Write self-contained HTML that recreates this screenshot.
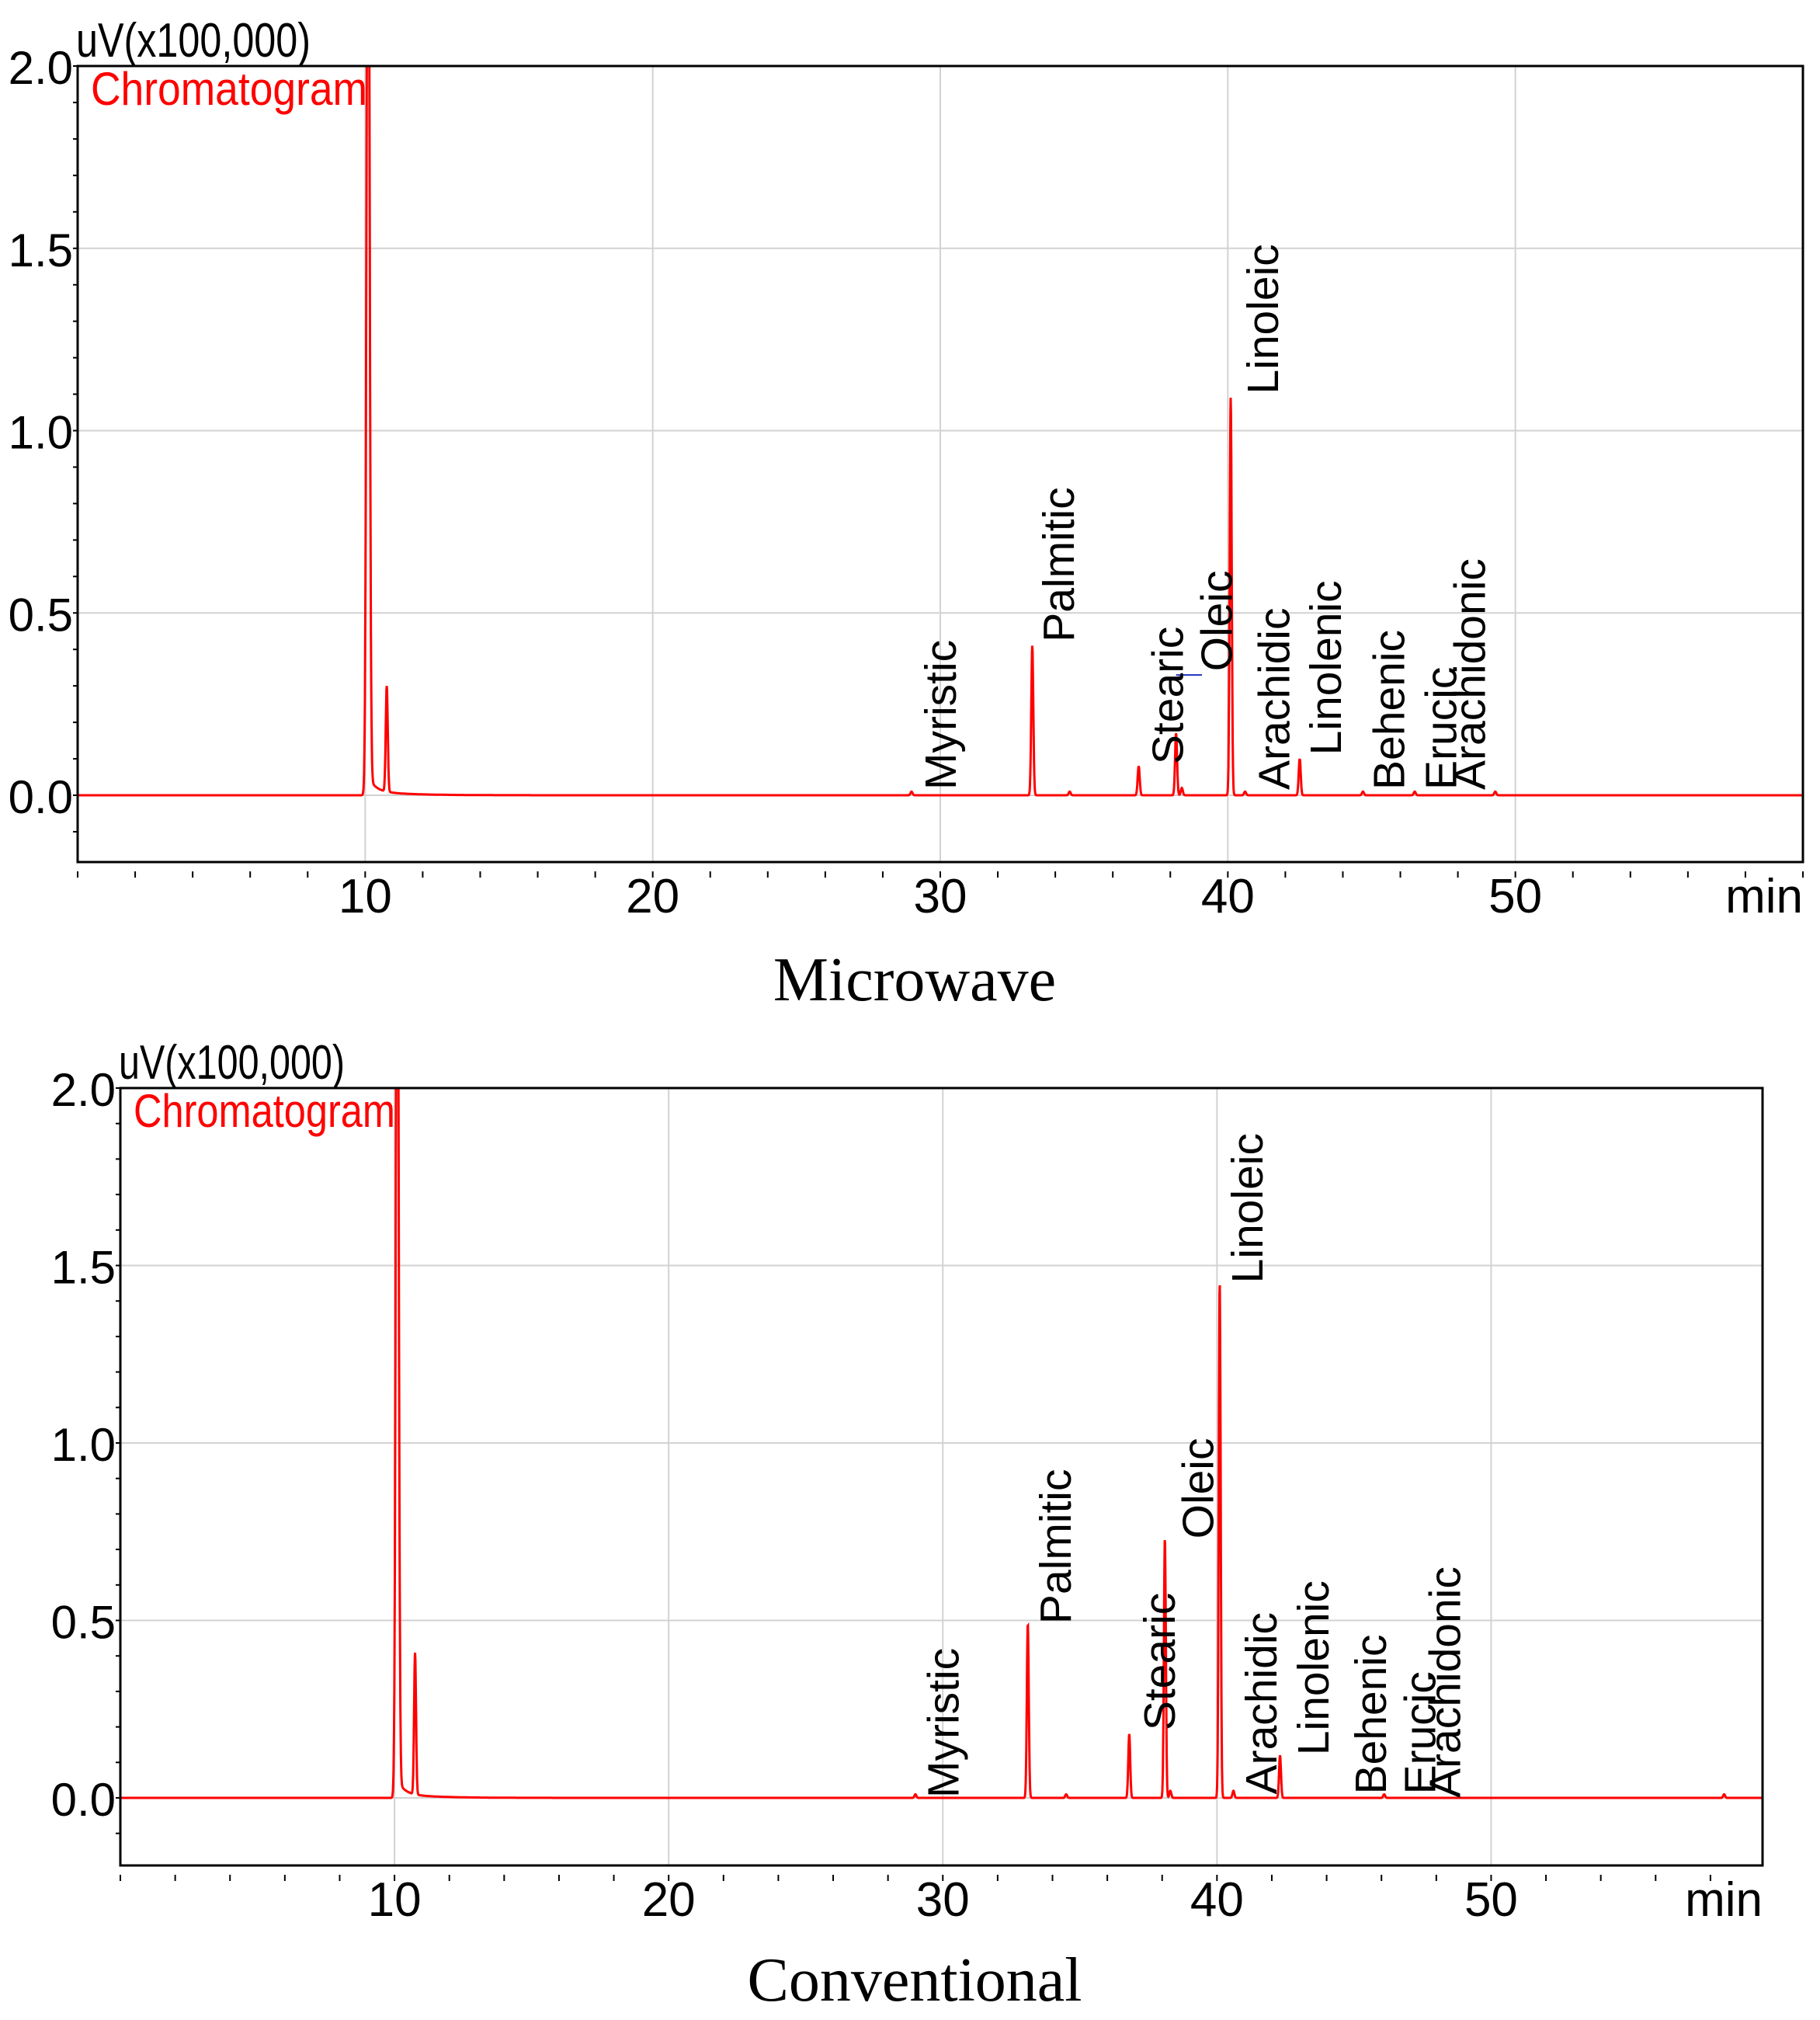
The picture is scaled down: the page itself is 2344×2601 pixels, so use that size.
<!DOCTYPE html>
<html><head><meta charset="utf-8"><style>
html,body{margin:0;padding:0;background:#fff}
svg{display:block}
text{font-family:"Liberation Sans",Arial,sans-serif}
</style></head><body>
<svg id="svg" width="2344" height="2601" viewBox="0 0 2344 2601" xmlns="http://www.w3.org/2000/svg">
<text x="1178" y="1288" font-size="80" text-anchor="middle" style="font-family:'Liberation Serif',serif">Microwave</text>
<text x="1178" y="2576" font-size="80" text-anchor="middle" style="font-family:'Liberation Serif',serif">Conventional</text>
</svg>
<script>
// ---- data ----
const mwPeakTimes = [10.1, 10.75, 29.0, 33.2, 34.5, 36.9, 38.2, 38.4, 40.1, 40.6, 42.5, 44.7, 46.5, 49.3];
const mwPeakHeights = [3.0, 0.29, 0.01, 0.41, 0.01, 0.08, 0.17, 0.02, 1.09, 0.01, 0.10, 0.01, 0.01, 0.01];
const cvPeakTimes = [10.1, 10.75, 29.0, 33.1, 34.5, 36.8, 38.1, 38.3, 40.1, 40.6, 42.3, 46.1, 58.5];
const cvPeakHeights = [3.0, 0.40, 0.01, 0.49, 0.01, 0.18, 0.73, 0.02, 1.45, 0.02, 0.12, 0.01, 0.01];
const labelNames = ["Myristic","Palmitic","Stearic","Oleic","Linoleic","Arachidic","Linolenic","Behenic","Erucic","Arachidonic"];
const mwLabelTimes = [30.0, 34.1, 37.9, 39.6, 41.2, 41.6, 43.4, 45.6, 47.4, 48.4];
const mwLabelValues = [0.015, 0.42, 0.085, 0.34, 1.10, 0.015, 0.11, 0.015, 0.015, 0.015];
const cvLabelTimes = [30.0, 34.1, 37.9, 39.3, 41.1, 41.6, 43.5, 45.6, 47.4, 48.3];
const cvLabelValues = [0.0, 0.49, 0.19, 0.73, 1.45, 0.01, 0.12, 0.01, 0.01, 0.0];
const xTickLabels = [10, 20, 30, 40, 50];
const yTickLabels = ["0.0", "0.5", "1.0", "1.5", "2.0"];

const NS = "http://www.w3.org/2000/svg";
const svg = document.getElementById('svg');
function mk(tag, attrs, parent){
  const e = document.createElementNS(NS, tag);
  for (const k in attrs) e.setAttribute(k, attrs[k]);
  (parent||svg).appendChild(e); return e;
}

function drawPanel(p){
  const xs = t => p.left + (t - 0) / p.tmax * (p.right - p.left);
  const ys = v => p.y0 - v * p.yu;
  const g = mk('g', {});
  
  
  for (const t of xTickLabels){
    const l = mk('line', {x1: xs(t), x2: xs(t), y1: p.top, y2: p.bottom, stroke: '#d2d2d2', 'stroke-width': 2}, g);
    
    
  }
  for (let i = 0; i < yTickLabels.length; i++){
    const v = parseFloat(yTickLabels[i]);
    const l = mk('line', {x1: p.left, x2: p.right, y1: ys(v), y2: ys(v), stroke: '#d2d2d2', 'stroke-width': 2}, g);
    
    
    const tx = mk('text', {x: p.left - 6, y: ys(v) + 23, 'font-size': 60, 'text-anchor': 'end'}, g);
    tx.textContent = yTickLabels[i];
    
    
  }
  for (let v = -0.1; v <= 2.0001; v += 0.1){
    mk('line', {x1: p.left, x2: p.left - 6, y1: ys(v), y2: ys(v), stroke: '#000', 'stroke-width': 2}, g);
  }
  for (let t = 0; t <= p.tmax + 0.01; t += 2){
    mk('line', {x1: xs(t), x2: xs(t), y1: p.bottom + 12, y2: p.bottom + 20, stroke: '#000', 'stroke-width': 2}, g);
  }
  for (const t of xTickLabels){
    const tx = mk('text', {x: xs(t), y: p.bottom + 65, 'font-size': 62, 'text-anchor': 'middle'}, g);
    tx.textContent = t;
    
    
  }
  const mn = mk('text', {x: p.right, y: p.bottom + 65, 'font-size': 62, 'text-anchor': 'end'}, g);
  mn.textContent = 'min';
  
  
  const uv = mk('text', {x: p.left - 2, y: p.top - 12, 'font-size': 62, textLength: p.uvLen, lengthAdjust: 'spacingAndGlyphs'}, g);
  uv.textContent = 'uV(x100,000)';
  
  
  const cid = 'clip' + p.name;
  const cp = mk('clipPath', {id: cid}, g);
  mk('rect', {x: p.left, y: p.top, width: p.right - p.left, height: p.bottom - p.top}, cp);
  const times = p.times, hts = p.heights;
  let d = '';
  const N = 6000;
  for (let i = 0; i <= N; i++){
    const t = p.tmax * i / N;
    let v = 0;
    for (let k = 0; k < times.length; k++){
      const dt = t - times[k];
      const s = k === 0 ? 0.05 : 0.035;
      v += hts[k] * Math.exp(-dt*dt/(2*s*s));
    }
    if (t > times[0]) v += 0.04 * Math.exp(-(t - times[0]) / 0.25) + 0.012 * Math.exp(-(t - times[0]) / 1.2);
    d += (i ? 'L' : 'M') + xs(t).toFixed(1) + ',' + ys(v).toFixed(1);
  }
  const tr = mk('path', {d: d, fill: 'none', stroke: '#ff0000', 'stroke-width': 3, 'clip-path': 'url(#' + cid + ')'}, g);
  
  
  if (p.blue){
    mk('line', {x1: xs(38.2), x2: xs(39.1), y1: ys(0.33), y2: ys(0.33), stroke: '#2030c0', 'stroke-width': 2}, g);
  }
  const fr = mk('rect', {x: p.left, y: p.top, width: p.right - p.left, height: p.bottom - p.top, fill: 'none', stroke: '#000', 'stroke-width': 3}, g);
  
  
  const ct = mk('text', {x: p.left + 17, y: p.top + 50, 'font-size': 60, fill: '#ff0000', textLength: p.ctLen, lengthAdjust: 'spacingAndGlyphs'}, g);
  ct.textContent = 'Chromatogram';
  
  
  for (let i = 0; i < labelNames.length; i++){
    const x = xs(p.lt[i]) + 20, y = ys(p.lv[i]);
    const lb = mk('text', {x: 0, y: 0, 'font-size': 57, transform: 'translate(' + x + ',' + y + ') rotate(-90)'}, g);
    lb.textContent = labelNames[i];
    
    
  }
}

drawPanel({name: 'microwave-panel', left: 100, right: 2322, top: 85, bottom: 1110, y0: 1024, yu: 469.5, tmax: 60, uvLen: 302, ctLen: 356,
  times: mwPeakTimes, heights: mwPeakHeights, lt: mwLabelTimes, lv: mwLabelValues, blue: true});
drawPanel({name: 'conventional-panel', left: 155, right: 2270, top: 1401, bottom: 2402, y0: 2315, yu: 457, tmax: 59.9, uvLen: 291, ctLen: 337,
  times: cvPeakTimes, heights: cvPeakHeights, lt: cvLabelTimes, lv: cvLabelValues, blue: false});
</script>
</body></html>
